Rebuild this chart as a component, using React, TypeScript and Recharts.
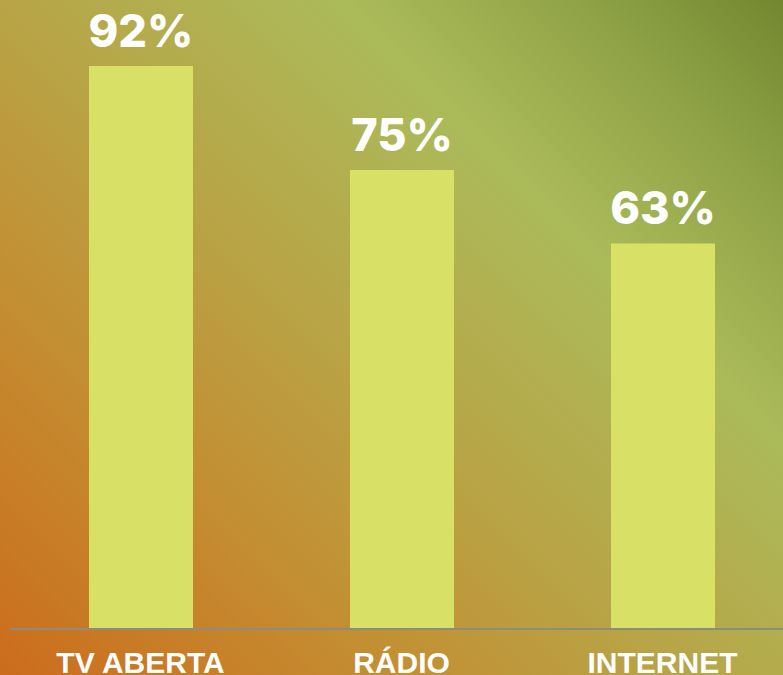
import React from 'react';
import { BarChart, Bar, XAxis, YAxis, LabelList } from 'recharts';

const categories = ['TV ABERTA', 'RÁDIO', 'INTERNET'];
const shares = [92, 75, 63];

const data = categories.map((name, i) => ({ name, value: shares[i] }));

const background =
  'linear-gradient(45deg, #cc6c1c 0%, #c48c30 25%, #b8a446 46%, #abbb5a 70%, #8fa246 86%, #728830 100%)';

const CategoryTick = (props: any) => {
  const { x, y, payload } = props;
  return (
    <text
      x={x}
      y={y}
      dy={44}
      textAnchor="middle"
      fill="#ffffff"
      fontFamily="'Liberation Sans', Arial, sans-serif"
      fontWeight={700}
      fontSize={30}
    >
      {payload.value}
    </text>
  );
};

export default function App() {
  return (
    <div
      style={{
        position: 'absolute',
        left: 0,
        top: 0,
        width: 783,
        height: 675,
        overflow: 'hidden',
        background,
      }}
    >
      <BarChart
        width={794}
        height={675}
        data={data}
        margin={{ top: 17, right: 1, bottom: 0, left: 10 }}
        barSize={104}
      >
        <XAxis
          dataKey="name"
          height={46}
          axisLine={{ stroke: '#8c8c80', strokeWidth: 2 }}
          tickLine={false}
          tickSize={0}
          tickMargin={0}
          tick={<CategoryTick />}
          interval={0}
        />
        <YAxis hide domain={[0, 100]} />
        <Bar dataKey="value" fill="#d9e066" isAnimationActive={false}>
          <LabelList
            dataKey="value"
            position="top"
            offset={19}
            formatter={(v: any) => `${v}%`}
            fill="#ffffff"
            fontFamily="Inter, sans-serif"
            fontWeight={800}
            fontSize={45}
          />
        </Bar>
      </BarChart>
    </div>
  );
}
